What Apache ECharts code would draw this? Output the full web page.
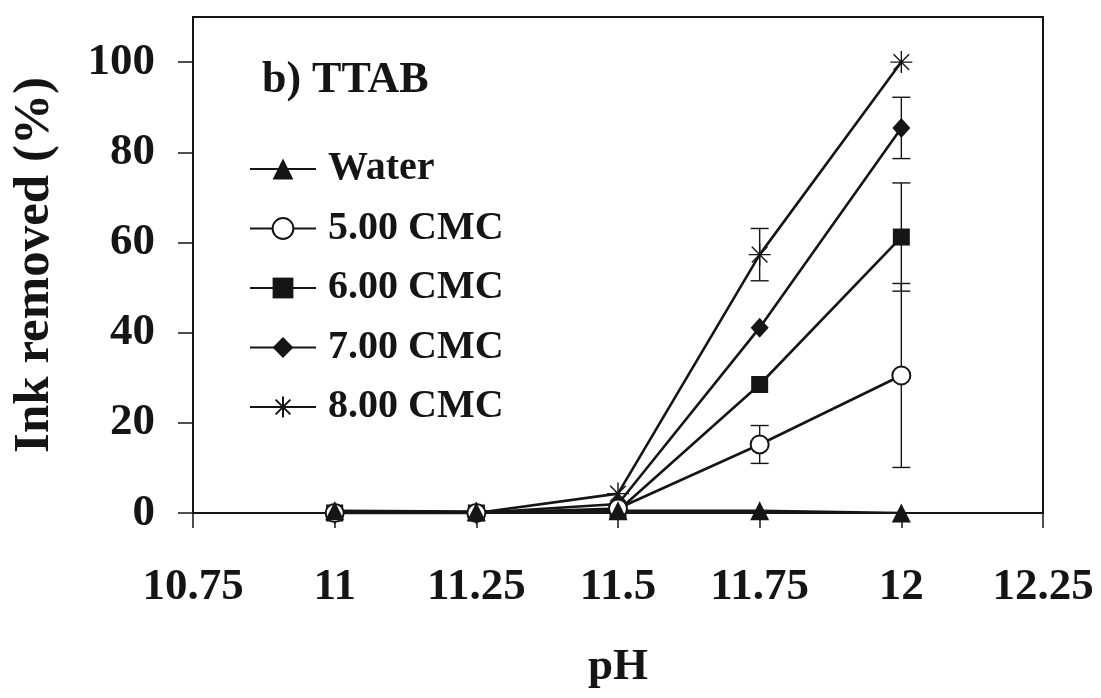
<!DOCTYPE html>
<html>
<head>
<meta charset="utf-8">
<script src="https://cdn.jsdelivr.net/npm/echarts@6/dist/echarts.min.js"></script>
<style>
  html, body { margin: 0; padding: 0; background: #fff; }
  #chart { width: 1101px; height: 698px; }
</style>
</head>
<body>
<div id="chart"></div>
<script>
// pH values at which ink removal was measured
const phValues = [11, 11.25, 11.5, 11.75, 12];

// Ink removed (%) for each washing solution
const water   = [0.5, 0.3, 0.5, 0.5, 0];
const cmc500  = [0, 0, 1, 15.2, 30.5];
const cmc600  = [0, 0, 0.5, 28.5, 61.2];
const cmc700  = [0, 0, 2, 41.1, 85.4];
const cmc800  = [0, 0, 4.3, 57.3, 100];

// Standard deviations (null where no bar is drawn)
const err500 = [null, null, null, 4.2, 20.4];
const err600 = [null, null, null, null, 12];
const err700 = [null, null, null, null, 6.8];
const err800 = [null, null, null, 5.8, null];

const yTicks = [0, 20, 40, 60, 80, 100];

const FONT = 'Liberation Serif';
const INK = '#151515';

const asterisk = 'path://M10,0L10,20M0,10L20,10M2.9,2.9L17.1,17.1M2.9,17.1L17.1,2.9';

function pairs(vals) {
  return phValues.map((x, i) => [x, vals[i]]);
}

function errData(vals, errs) {
  const out = [];
  phValues.forEach((x, i) => {
    if (errs[i] != null) out.push([x, vals[i] - errs[i], vals[i] + errs[i]]);
  });
  return out;
}

const allErr = []
  .concat(errData(cmc500, err500))
  .concat(errData(cmc600, err600))
  .concat(errData(cmc700, err700))
  .concat(errData(cmc800, err800));

function lineSeries(name, vals, symbol, size, extraItem) {
  return {
    name: name,
    type: 'line',
    data: pairs(vals),
    symbol: symbol,
    symbolSize: size,
    showAllSymbol: true,
    lineStyle: { color: INK, width: 2.6 },
    itemStyle: Object.assign({ color: INK, borderColor: INK, borderWidth: 0 }, extraItem || {}),
    emphasis: { disabled: true },
    z: 3
  };
}

const chart = echarts.init(document.getElementById('chart'), null, { renderer: 'canvas' });

chart.setOption({
  backgroundColor: '#fff',
  animation: false,
  title: {
    text: 'b) TTAB',
    left: 257,
    top: 54,
    textStyle: { fontFamily: FONT, fontWeight: 'bold', fontSize: 44, color: INK }
  },
  legend: {
    orient: 'vertical',
    left: 244,
    top: 144,
    itemWidth: 66,
    itemHeight: 26,
    itemGap: 19.5,
    data: ['Water', '5.00 CMC', '6.00 CMC', '7.00 CMC', '8.00 CMC'],
    textStyle: {
      fontFamily: FONT, fontWeight: 'bold', fontSize: 40, color: INK,
      lineHeight: 40, padding: [0, 0, 0, 7]
    }
  },
  grid: {
    left: 193, right: 58, top: 17, bottom: 185,
    show: true, borderColor: INK, borderWidth: 2, backgroundColor: 'transparent'
  },
  xAxis: {
    type: 'value',
    min: 10.75,
    max: 12.25,
    interval: 0.25,
    name: 'pH',
    nameLocation: 'middle',
    nameGap: 132,
    nameTextStyle: { fontFamily: FONT, fontWeight: 'bold', fontSize: 45, color: INK },
    splitLine: { show: false },
    axisLine: { lineStyle: { color: INK, width: 2 } },
    axisTick: { inside: false, length: 15, lineStyle: { color: INK, width: 1.5 } },
    axisLabel: { margin: 52, fontFamily: FONT, fontWeight: 'bold', fontSize: 45, color: INK }
  },
  yAxis: {
    type: 'value',
    min: 0,
    max: 110,
    interval: 20,
    name: 'Ink removed (%)',
    nameLocation: 'middle',
    nameGap: 133,
    nameTextStyle: { fontFamily: FONT, fontWeight: 'bold', fontSize: 51, color: INK },
    splitLine: { show: false },
    axisLine: { onZero: false, lineStyle: { color: INK, width: 2 } },
    axisTick: { inside: false, length: 15, customValues: yTicks, lineStyle: { color: INK, width: 1.5 } },
    axisLabel: { margin: 38, customValues: yTicks, fontFamily: FONT, fontWeight: 'bold', fontSize: 45, color: INK }
  },
  series: [
    {
      name: 'errors',
      type: 'custom',
      data: allErr,
      z: 2,
      silent: true,
      renderItem: function (params, api) {
        const x = api.value(0);
        const lo = api.coord([x, api.value(1)]);
        const hi = api.coord([x, api.value(2)]);
        const cap = 9;
        const style = { stroke: INK, lineWidth: 1.4, fill: null };
        return {
          type: 'group',
          children: [
            { type: 'line', shape: { x1: lo[0], y1: lo[1], x2: hi[0], y2: hi[1] }, style: style },
            { type: 'line', shape: { x1: lo[0] - cap, y1: lo[1], x2: lo[0] + cap, y2: lo[1] }, style: style },
            { type: 'line', shape: { x1: hi[0] - cap, y1: hi[1], x2: hi[0] + cap, y2: hi[1] }, style: style }
          ]
        };
      }
    },
    lineSeries('8.00 CMC', cmc800, asterisk, 22, { color: 'none', borderColor: INK, borderWidth: 1.4 }),
    lineSeries('7.00 CMC', cmc700, 'diamond', [18, 20]),
    lineSeries('6.00 CMC', cmc600, 'rect', 17),
    lineSeries('5.00 CMC', cmc500, 'emptyCircle', 18, { color: INK, borderColor: INK, borderWidth: 1.4 }),
    lineSeries('Water', water, 'triangle', 19)
  ]
});
</script>
</body>
</html>
